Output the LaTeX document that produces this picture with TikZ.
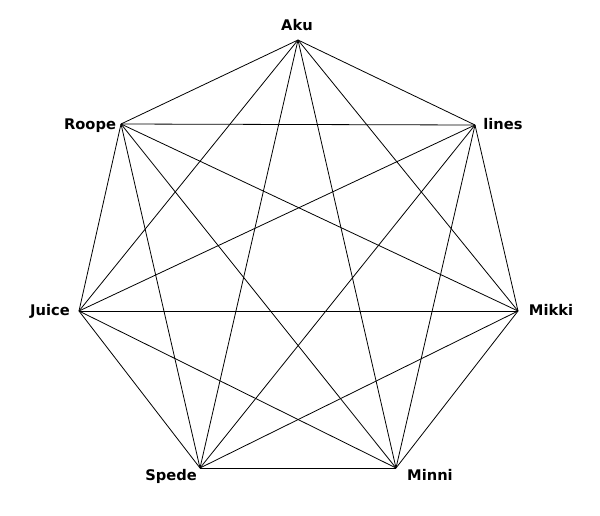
\documentclass[tikz,border=0pt]{standalone}
\usepackage{fontspec}
\setmainfont{DejaVu Sans}
\begin{document}
\begin{tikzpicture}[x=0.75pt,y=-0.75pt,
    vname/.style={font=\bfseries\fontsize{11}{12}\selectfont, inner sep=0pt,
      text height=8pt, text depth=2pt}]
      \useasboundingbox (0,0) rectangle (600,515);

      \coordinate (Aku) at (298,40);
      \coordinate (lines) at (475,125);
      \coordinate (Mikki) at (518,311);
      \coordinate (Minni) at (396,468);
      \coordinate (Spede) at (200,468);
      \coordinate (Juice) at (79,311);
      \coordinate (Roope) at (121,124);

      \foreach \a [count=\i] in {Aku,lines,Mikki,Minni,Spede,Juice,Roope} {
          \foreach \b [count=\j] in {Aku,lines,Mikki,Minni,Spede,Juice,Roope} {
              \ifnum\i<\j \draw[line width=0.6pt] (\a) -- (\b); \fi
            }
        }

      \node[vname] (lAku) at (297,26) {Aku};
      \node[vname] (llines) at (503,125) {lines};
      \node[vname] (lMikki) at (551,311) {Mikki};
      \node[vname] (lMinni) at (430,476) {Minni};
      \node[vname] (lSpede) at (171,476) {Spede};
      \node[vname] (lJuice) at (50,311) {Juice};
      \node[vname] (lRoope) at (90,125) {Roope};
    \end{tikzpicture}
\end{document}
